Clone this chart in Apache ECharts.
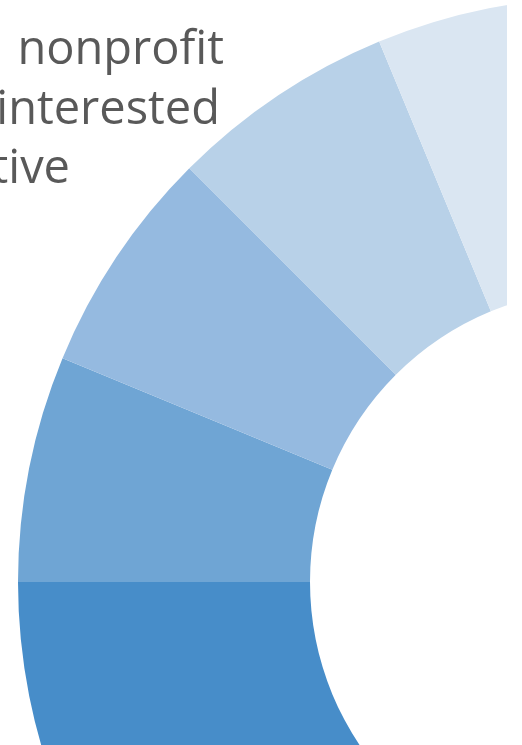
<!DOCTYPE html>
<html>
<head>
<meta charset="utf-8">
<script src="https://cdn.jsdelivr.net/npm/echarts@6/dist/echarts.min.js"></script>
<style>
  html, body { margin: 0; padding: 0; background: #ffffff; }
  #chart { width: 522px; height: 745px; }
</style>
</head>
<body>
<div id="chart"></div>
<script>
// Response levels, ordered clockwise from the bottom of the ring
const categories = ['Very interested', 'Interested', 'Somewhat interested', 'Slightly interested', 'Not interested'];
// Share of respondents (%) for each level
const shares = [25, 6.25, 6.25, 6.25, 56.25];
// Fill colour for each level, dark to light
const palette = ['#478dc9', '#6fa5d4', '#95bae0', '#b8d1e8', '#dae6f2'];
// Title lines (the visible tail of each line)
const titleLines = ['nonprofit', 'interested', 'tive'];

const chart = echarts.init(document.getElementById('chart'), null, { renderer: 'canvas' });

const titleRight = [224, 220, 70];
const titleMiddle = [51, 111, 170];

chart.setOption({
  backgroundColor: '#ffffff',
  animation: false,
  series: [{
    type: 'pie',
    center: [603, 582],
    radius: [293, 585],
    startAngle: 270,
    clockwise: true,
    silent: true,
    avoidLabelOverlap: false,
    label: { show: false },
    labelLine: { show: false },
    emphasis: { disabled: true },
    itemStyle: { borderWidth: 0 },
    data: categories.map((name, i) => ({
      name: name,
      value: shares[i],
      itemStyle: { color: palette[i] }
    }))
  }],
  graphic: [
    {
      type: 'rect',
      z: 100,
      shape: { x: 507, y: 0, width: 15, height: 745 },
      style: { fill: '#ffffff' },
      silent: true
    }
  ].concat(titleLines.map((t, i) => ({
    type: 'text',
    z: 110,
    x: titleRight[i],
    y: titleMiddle[i],
    style: {
      text: t,
      fill: '#595959',
      font: '47px "Open Sans"',
      textAlign: 'right',
      textVerticalAlign: 'middle'
    },
    silent: true
  })))
});
</script>
</body>
</html>
